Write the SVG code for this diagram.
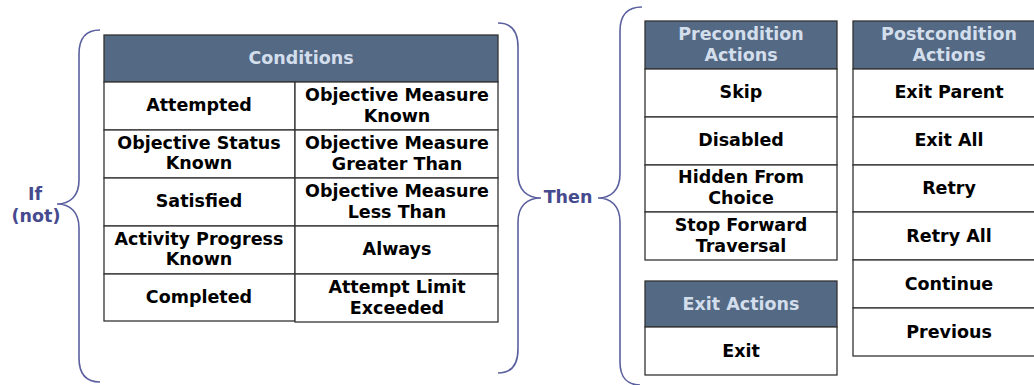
<svg xmlns="http://www.w3.org/2000/svg" width="1034" height="385" viewBox="0 0 1034 385">
<style>
.cell{fill:#ffffff;stroke:#333333;stroke-width:1.3}
.hdr{fill:#546983;stroke:#333333;stroke-width:1.3}
.t{font-family:"DejaVu Sans",Verdana,sans-serif;font-weight:bold;font-size:17.5px;fill:#000000;text-anchor:middle}
.h{font-family:"DejaVu Sans",Verdana,sans-serif;font-weight:bold;font-size:17.5px;fill:#d3deec;text-anchor:middle}
.b{fill:none;stroke:#5a5f9e;stroke-width:1.6}
.bl{font-family:"DejaVu Sans",Verdana,sans-serif;font-weight:bold;font-size:17.5px;fill:#464b8e;text-anchor:middle}
</style>
<rect width="1034" height="385" fill="#ffffff"/>
<g id="connectors">
<path class="b" d="M100,30 C86,30 79,38 79,54 L79,180 C79,196 70,204 57,204 C70,204 79,212 79,228 L79,358 C79,374 86,382 100,382"/>
<path class="b" d="M498,23 C512,23 518,31 518,47 L518,174 C518,190 527,198 541,198 C527,198 518,206 518,222 L518,349 C518,365 512,373 498,373"/>
<path class="b" d="M642,7 C628,7 620,15 620,31 L620,174 C620,190 611,198 598,198 C611,198 620,206 620,222 L620,362 C620,378 628,385 640,385"/>
</g>
<g id="if-label">
<text class="bl" x="35" y="200">If</text>
<text class="bl" x="36" y="222">(not)</text>
</g>
<g id="then-label">
<text class="bl" x="568" y="203">Then</text>
</g>
<g id="conditions">
<rect class="hdr" x="104" y="35" width="394" height="47"/>
<text class="h" x="301" y="64">Conditions</text>
<rect class="cell" x="104" y="82" width="191" height="48"/>
<rect class="cell" x="104" y="130" width="191" height="48"/>
<rect class="cell" x="104" y="178" width="191" height="48"/>
<rect class="cell" x="104" y="226" width="191" height="48"/>
<rect class="cell" x="104" y="274" width="191" height="47"/>
<rect class="cell" x="295" y="82" width="203" height="48"/>
<rect class="cell" x="295" y="130" width="203" height="48"/>
<rect class="cell" x="295" y="178" width="203" height="48"/>
<rect class="cell" x="295" y="226" width="203" height="48"/>
<rect class="cell" x="295" y="274" width="203" height="48"/>
<text class="t" x="199" y="111">Attempted</text>
<text class="t" x="199" y="149">Objective Status</text>
<text class="t" x="199" y="169">Known</text>
<text class="t" x="199" y="207">Satisfied</text>
<text class="t" x="199" y="245">Activity Progress</text>
<text class="t" x="199" y="265">Known</text>
<text class="t" x="199" y="303">Completed</text>
<text class="t" x="397" y="101">Objective Measure</text>
<text class="t" x="397" y="122">Known</text>
<text class="t" x="397" y="149">Objective Measure</text>
<text class="t" x="397" y="170">Greater Than</text>
<text class="t" x="397" y="197">Objective Measure</text>
<text class="t" x="397" y="218">Less Than</text>
<text class="t" x="397" y="255">Always</text>
<text class="t" x="397" y="293">Attempt Limit</text>
<text class="t" x="397" y="314">Exceeded</text>
</g>
<g id="precondition-actions">
<rect class="hdr" x="645" y="21" width="192" height="48"/>
<text class="h" x="741" y="40">Precondition</text>
<text class="h" x="741" y="61">Actions</text>
<rect class="cell" x="645" y="69" width="192" height="48"/>
<rect class="cell" x="645" y="117" width="192" height="48"/>
<rect class="cell" x="645" y="165" width="192" height="47"/>
<rect class="cell" x="645" y="212" width="192" height="48"/>
<text class="t" x="741" y="98">Skip</text>
<text class="t" x="741" y="146">Disabled</text>
<text class="t" x="741" y="183">Hidden From</text>
<text class="t" x="741" y="204">Choice</text>
<text class="t" x="741" y="231">Stop Forward</text>
<text class="t" x="741" y="252">Traversal</text>
</g>
<g id="exit-actions">
<rect class="hdr" x="645" y="281" width="192" height="46"/>
<text class="h" x="741" y="310">Exit Actions</text>
<rect class="cell" x="645" y="327" width="192" height="48"/>
<text class="t" x="741" y="357">Exit</text>
</g>
<g id="postcondition-actions">
<rect class="hdr" x="853" y="21" width="192" height="48"/>
<text class="h" x="949" y="40">Postcondition</text>
<text class="h" x="949" y="61">Actions</text>
<rect class="cell" x="853" y="69" width="192" height="48"/>
<rect class="cell" x="853" y="117" width="192" height="48"/>
<rect class="cell" x="853" y="165" width="192" height="47"/>
<rect class="cell" x="853" y="212" width="192" height="48"/>
<rect class="cell" x="853" y="260" width="192" height="48"/>
<rect class="cell" x="853" y="308" width="192" height="48"/>
<text class="t" x="949" y="98">Exit Parent</text>
<text class="t" x="949" y="146">Exit All</text>
<text class="t" x="949" y="194">Retry</text>
<text class="t" x="949" y="242">Retry All</text>
<text class="t" x="949" y="290">Continue</text>
<text class="t" x="949" y="338">Previous</text>
</g>
</svg>
